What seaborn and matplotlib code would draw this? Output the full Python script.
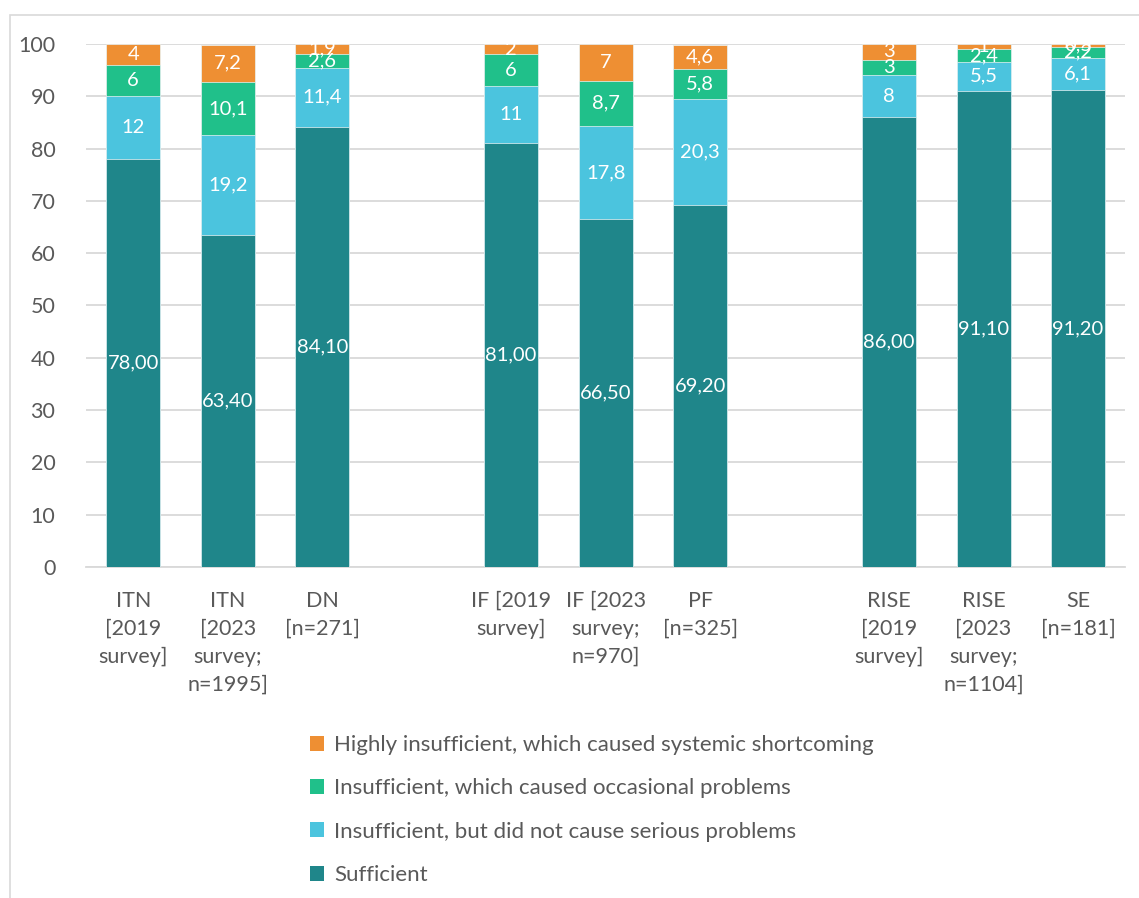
import matplotlib
matplotlib.use("Agg")
import matplotlib.pyplot as plt
from matplotlib.patches import Rectangle, Patch
import numpy as np
import pandas as pd
import seaborn as sns

# Categories (blank entries separate the three groups)
categories = [
    "ITN\n[2019\nsurvey]", "ITN\n[2023\nsurvey;\nn=1995]", "DN\n[n=271]", " ",
    "IF [2019\nsurvey]", "IF [2023\nsurvey;\nn=970]", "PF\n[n=325]", "  ",
    "RISE\n[2019\nsurvey]", "RISE\n[2023\nsurvey;\nn=1104]", "SE\n[n=181]",
]
groups = [c for c in categories if c.strip()]

sufficient = [78.0, 63.4, 84.1, 81.0, 66.5, 69.2, 86.0, 91.1, 91.2]
insuff_no_problems = [12, 19.2, 11.4, 11, 17.8, 20.3, 8, 5.5, 6.1]
insuff_occasional = [6, 10.1, 2.6, 6, 8.7, 5.8, 3, 2.4, 2.2]
highly_insuff = [4, 7.2, 1.9, 2, 7, 4.6, 3, 1, 0.5]

series_names = [
    "Sufficient",
    "Insufficient, but did not cause serious problems",
    "Insufficient, which caused occasional problems",
    "Highly insufficient, which caused systemic shortcoming",
]
series_values = [sufficient, insuff_no_problems, insuff_occasional, highly_insuff]
colors = ["#1F868A", "#4BC4DE", "#20C08A", "#EE8F33"]

sns.set_theme(style="white")
plt.rcParams["font.family"] = ["Lato", "DejaVu Sans"]
text_color = "#595959"

fig = plt.figure(figsize=(11.39, 8.98), dpi=100)
ax = fig.add_axes([0.0755, 0.3686, 0.9125, 0.5824])

# Outer frame around the chart area
fig.patches.append(Rectangle((10 / 1139, -0.01), 1.0, 1 - 15 / 898 + 0.01,
                             transform=fig.transFigure, fill=False,
                             edgecolor="#D9D9D9", linewidth=1.2))

# Stacked bars: draw cumulative totals, tallest first
df = pd.DataFrame({"category": groups})
cum = np.zeros(len(groups))
cumulative = []
for vals in series_values:
    cum = cum + np.array(vals, dtype=float)
    cumulative.append(cum.copy())

bar_sets = []
for name, top, col in reversed(list(zip(series_names, cumulative, colors))):
    d = df.copy()
    d["value"] = top
    before = len(ax.patches)
    sns.barplot(data=d, x="category", y="value", order=categories, color=col,
                saturation=1, width=0.57, ax=ax, errorbar=None, zorder=3,
                edgecolor="#EAF4F6", linewidth=0.5)
    bar_sets.append((name, list(ax.patches[before:])))
bar_sets = list(reversed(bar_sets))


def fmt(v, decimals=None):
    if decimals is not None:
        s = f"{v:.{decimals}f}"
    else:
        s = f"{v:g}"
    return s.replace(".", ",")


# Segment labels
for si, (name, patches) in enumerate(bar_sets):
    vals = series_values[si]
    for i, p in enumerate(patches):
        top = p.get_height()
        bottom = top - vals[i]
        xc = p.get_x() + p.get_width() / 2
        label = fmt(vals[i], 2) if si == 0 else fmt(vals[i])
        ax.text(xc, (top + bottom) / 2, label, ha="center", va="center",
                color="white", fontsize=14.5, zorder=5)

ax.set_ylim(0, 100)
ax.set_xlim(-0.5, len(categories) - 0.5)
ax.set_yticks(np.arange(0, 101, 10))
ax.yaxis.grid(True, color="#D9D9D9", linewidth=1.3, zorder=0)
ax.set_axisbelow(True)
for s in ["top", "right", "left"]:
    ax.spines[s].set_visible(False)
ax.spines["bottom"].set_color("#D9D9D9")
ax.spines["bottom"].set_linewidth(1.3)
ax.set_xlabel("")
ax.set_ylabel("")
ax.tick_params(axis="y", length=0, pad=22, labelsize=15.5, labelcolor=text_color)
ax.tick_params(axis="x", length=0, pad=17, labelsize=15.5, labelcolor=text_color)
for lbl in ax.get_xticklabels():
    lbl.set_linespacing(1.5)

# Legend listed top-down from the top segment
handles = [Patch(facecolor=c, edgecolor="none") for c in reversed(colors)]
fig.legend(handles, list(reversed(series_names)), loc="upper left",
           bbox_to_anchor=(290 / 1139, 1 - 715 / 898), frameon=False,
           fontsize=16, labelcolor=text_color, handlelength=0.65,
           handleheight=0.65, handletextpad=0.45, labelspacing=1.05)

fig.savefig("out.png", dpi=100, facecolor="white")
